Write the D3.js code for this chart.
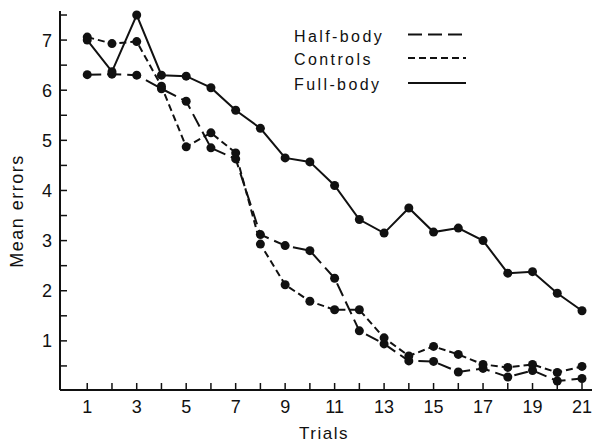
<!DOCTYPE html>
<html>
<head>
<meta charset="utf-8">
<script src="https://cdn.jsdelivr.net/npm/d3@7"></script>
<style>
  body { margin: 0; background: #fff; }
  svg text { font-family: "Liberation Sans", Arial, sans-serif; fill: #111; }
</style>
</head>
<body>
<svg id="chart" width="592" height="445"></svg>
<script>
// --- data ---
const trials = d3.range(1, 22);
const halfBody = [6.31, 6.32, 6.30, 6.03, 5.78, 4.85, 4.63, 3.12, 2.90, 2.80, 2.25, 1.20, 0.94, 0.60, 0.59, 0.38, 0.45, 0.28, 0.41, 0.20, 0.25];
const controls = [7.06, 6.93, 6.97, 6.08, 4.87, 5.15, 4.75, 2.93, 2.12, 1.79, 1.62, 1.62, 1.06, 0.70, 0.89, 0.73, 0.53, 0.47, 0.53, 0.37, 0.49];
const fullBody = [7.00, 6.37, 7.50, 6.30, 6.28, 6.05, 5.60, 5.24, 4.65, 4.57, 4.10, 3.42, 3.15, 3.65, 3.17, 3.25, 3.00, 2.35, 2.38, 1.95, 1.60];
const yTicks = [1, 2, 3, 4, 5, 6, 7];
const xLabels = [1, 3, 5, 7, 9, 11, 13, 15, 17, 19, 21];

const series = [
  { name: 'Half-body', values: halfBody, dash: '14,6' },
  { name: 'Controls',  values: controls, dash: '7,4' },
  { name: 'Full-body', values: fullBody, dash: null }
];

const svg = d3.select('#chart');
const x = d3.scaleLinear().domain([0, 21]).range([62.5, 582]);
const y = d3.scaleLinear().domain([0, 7.6]).range([391, 10]);

// axes lines
svg.append('line').attr('x1', 60).attr('x2', 60).attr('y1', 11).attr('y2', 390)
  .attr('stroke', '#111').attr('stroke-width', 2);
svg.append('line').attr('x1', 60).attr('x2', 592).attr('y1', 390).attr('y2', 390)
  .attr('stroke', '#111').attr('stroke-width', 2);

// y ticks (major + half)
const yAll = d3.range(0.5, 7.6, 0.5);
svg.append('g').selectAll('line').data(yAll).join('line')
  .attr('x1', 60).attr('x2', 67)
  .attr('y1', d => y(d)).attr('y2', d => y(d))
  .attr('stroke', '#111').attr('stroke-width', 1.5);
svg.append('g').selectAll('text').data(yTicks).join('text')
  .attr('x', 52).attr('y', d => y(d) + 6.5)
  .attr('text-anchor', 'end').attr('font-size', 18)
  .text(d => d);

// x ticks
svg.append('g').selectAll('line').data(trials).join('line')
  .attr('x1', d => x(d)).attr('x2', d => x(d))
  .attr('y1', 390).attr('y2', 383)
  .attr('stroke', '#111').attr('stroke-width', 1.5);
svg.append('g').selectAll('text').data(xLabels).join('text')
  .attr('x', d => x(d)).attr('y', 413)
  .attr('text-anchor', 'middle').attr('font-size', 18)
  .text(d => d);

// axis titles
svg.append('text').attr('x', 324).attr('y', 439)
  .attr('text-anchor', 'middle').attr('font-size', 17).attr('letter-spacing', 1.5)
  .text('Trials');
svg.append('text').attr('transform', 'translate(23,211) rotate(-90)')
  .attr('text-anchor', 'middle').attr('font-size', 18).attr('letter-spacing', 1.5)
  .text('Mean errors');

// lines + markers
const line = d3.line().x((d, i) => x(trials[i])).y(d => y(d));
series.forEach(s => {
  svg.append('path').datum(s.values)
    .attr('d', line).attr('fill', 'none')
    .attr('stroke', '#111').attr('stroke-width', 2)
    .attr('stroke-dasharray', s.dash);
  svg.append('g').selectAll('circle').data(s.values).join('circle')
    .attr('cx', (d, i) => x(trials[i])).attr('cy', d => y(d))
    .attr('r', 4.5).attr('fill', '#111');
});

// legend
const legY = [41.5, 65, 90];
const lg = svg.append('g');
series.forEach((s, i) => {
  lg.append('text').attr('x', 294).attr('y', legY[i])
    .attr('font-size', 16).attr('letter-spacing', 2.4)
    .text(s.name);
  lg.append('line').attr('x1', 408).attr('x2', 466)
    .attr('y1', legY[i] - 7).attr('y2', legY[i] - 7)
    .attr('stroke', '#111').attr('stroke-width', 2)
    .attr('stroke-dasharray', s.dash);
});
</script>
</body>
</html>
